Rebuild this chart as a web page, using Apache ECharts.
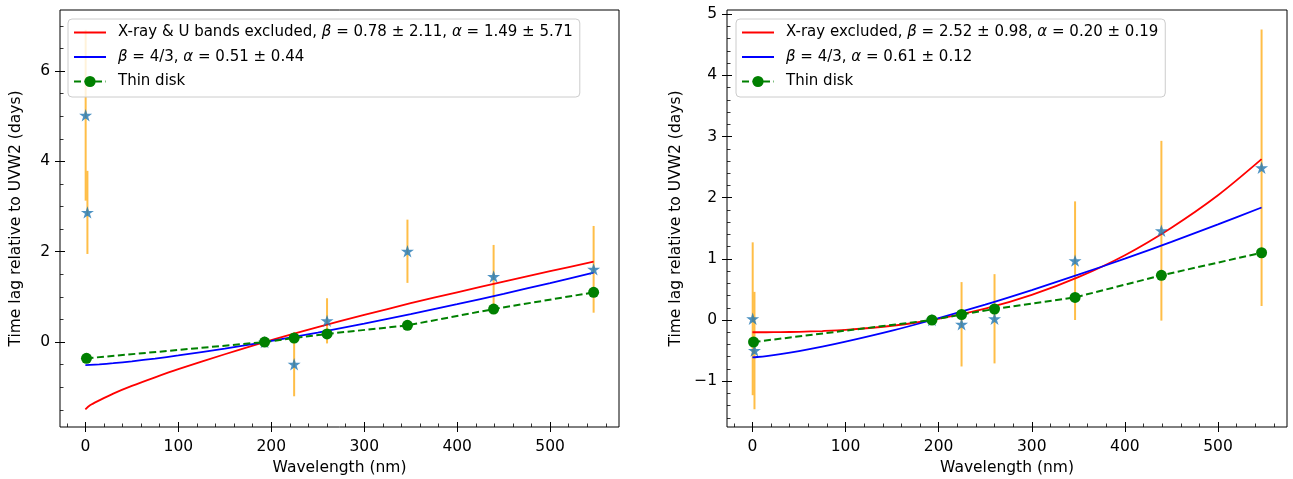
<!DOCTYPE html>
<html>
<head>
<meta charset="utf-8">
<script src="https://cdn.jsdelivr.net/npm/echarts@6/dist/echarts.min.js"></script>
<style>
  html, body { margin: 0; padding: 0; background: #fff; }
  #chart { width: 1293px; height: 479px; }
</style>
</head>
<body>
<div id="chart"></div>
<script>
// Band wavelengths (nm): two X-ray bands, then UVW2, UVM2, UVW1, U, B, V
const bandWavelengths = [0.3, 2.2, 192.8, 224.6, 260.0, 346.5, 439.2, 546.8];
const diskWavelengths = [1.2, 192.8, 224.6, 260.0, 346.5, 439.2, 546.8];
const thinDiskLag = [-0.36, 0.00, 0.09, 0.18, 0.37, 0.73, 1.10];

// Measured lags relative to UVW2 (days) and their uncertainties
const lagLeft = [5.02, 2.87, 0.00, -0.49, 0.47, 2.01, 1.45, 1.61];
const errLeft = [1.89, 0.92, 0.00, 0.71, 0.50, 0.70, 0.70, 0.96];
const lagRight = [0.02, -0.50, 0.00, -0.07, 0.02, 0.97, 1.46, 2.49];
const errRight = [1.25, 0.96, 0.00, 0.69, 0.73, 0.97, 1.47, 2.26];

// Fitted lag-spectrum curves, sampled along wavelength
const fitWavelengths = [0, 5, 15, 30, 50, 75, 100, 150, 192.8, 250, 300, 350, 400, 450, 500, 546.8];
const fitFreeLeft = [-1.49, -1.40, -1.29, -1.14, -0.97, -0.78, -0.60, -0.27, 0.00, 0.33, 0.60, 0.86, 1.10, 1.34, 1.57, 1.78];
const fitFixedLeft = [-0.51, -0.506, -0.493, -0.467, -0.426, -0.365, -0.297, -0.145, 0.00, 0.211, 0.410, 0.620, 0.839, 1.069, 1.307, 1.539];
const fitFreeRight = [-0.20, -0.20, -0.20, -0.198, -0.193, -0.181, -0.162, -0.094, 0.00, 0.185, 0.41, 0.70, 1.06, 1.51, 2.04, 2.63];
const fitFixedRight = [-0.61, -0.605, -0.59, -0.559, -0.509, -0.437, -0.355, -0.174, 0.00, 0.252, 0.490, 0.741, 1.003, 1.279, 1.563, 1.84];

const nameFreeLeft = 'X-ray & U bands excluded, β = 0.78 ± 2.11, α = 1.49 ± 5.71';
const nameFixedLeft = 'β = 4/3, α = 0.51 ± 0.44';
const nameFreeRight = 'X-ray excluded, β = 2.52 ± 0.98, α = 0.20 ± 0.19';
const nameFixedRight = 'β = 4/3, α = 0.61 ± 0.12';
const nameDisk = 'Thin disk';

// Axis ranges and tick labels
const xRange = [-27.3, 574.1];
const yRangeLeft = [-1.88, 7.35];
const yRangeRight = [-1.75, 5.07];
const xMajorTicks = [0, 100, 200, 300, 400, 500];
const yMajorLeft = [0, 2, 4, 6];
const yMajorRight = [-1, 0, 1, 2, 3, 4, 5];

function minorTicks(lo, hi, step, majors) {
  const out = [];
  const n0 = Math.ceil(lo / step - 1e-9), n1 = Math.floor(hi / step + 1e-9);
  for (let n = n0; n <= n1; n++) {
    const v = +(n * step).toFixed(6);
    if (!majors.some(m => Math.abs(m - v) < 1e-6)) out.push(v);
  }
  return out;
}
const xMinorTicks = minorTicks(xRange[0], xRange[1], 20, xMajorTicks);
const yMinorLeft = minorTicks(yRangeLeft[0], yRangeLeft[1], 0.5, yMajorLeft);
const yMinorRight = minorTicks(yRangeRight[0], yRangeRight[1], 0.2, yMajorRight);

const FONT = 'DejaVu Sans';
const FS = 15.5;
const LEG_FS = 15;
const fmtNum = v => (v < 0 ? '\u2212' + Math.abs(v) : String(v));

// Three stacked axes per side: labelled axis with outward major ticks,
// inward major ticks, inward minor ticks.
function axisSet(kind, gridIndex, range, majors, minors, name, nameGap, labelMargin) {
  const base = {
    type: 'value', gridIndex, min: range[0], max: range[1],
    position: kind === 'x' ? 'bottom' : 'left', offset: 0,
    splitLine: { show: false },
    axisLine: { show: false, onZero: false }
  };
  return [
    Object.assign({}, base, {
      name, nameLocation: 'middle', nameGap,
      nameTextStyle: { fontFamily: FONT, fontSize: FS, color: '#000' },
      axisTick: { show: true, inside: false, length: 5, customValues: majors, lineStyle: { color: '#000', width: 1 } },
      axisLabel: { show: true, customValues: majors, margin: labelMargin, formatter: fmtNum,
                   fontFamily: FONT, fontSize: FS, color: '#000' }
    }),
    Object.assign({}, base, {
      axisTick: { show: true, inside: true, length: 5, customValues: majors, lineStyle: { color: '#000', width: 1 } },
      axisLabel: { show: false, customValues: majors }
    }),
    Object.assign({}, base, {
      axisTick: { show: true, inside: true, length: 3.5, customValues: minors, lineStyle: { color: '#000', width: 0.8 } },
      axisLabel: { show: false, customValues: minors }
    })
  ];
}

const STAR = 'path://M50 0 L61.23 34.55 L97.55 34.55 L68.16 55.9 L79.39 90.45 L50 69.1 L20.61 90.45 L31.84 55.9 L2.45 34.55 L38.77 34.55 Z';

function panelSeries(axisIdx, lags, errs, freeName, freeVals, fixedName, fixedVals) {
  const errData = bandWavelengths.map((w, i) => [w, lags[i] - errs[i], lags[i] + errs[i]]);
  return [
    {
      type: 'custom', name: 'err', xAxisIndex: axisIdx, yAxisIndex: axisIdx, z: 1,
      data: errData, encode: { x: 0, y: [1, 2] },
      renderItem: (params, api) => {
        const p1 = api.coord([api.value(0), api.value(1)]);
        const p2 = api.coord([api.value(0), api.value(2)]);
        return { type: 'line', shape: { x1: p1[0], y1: p1[1], x2: p2[0], y2: p2[1] },
                 style: { stroke: 'rgba(255,165,0,0.72)', lineWidth: 2 } };
      }
    },
    {
      type: 'line', name: freeName, xAxisIndex: axisIdx, yAxisIndex: axisIdx, z: 2,
      data: fitWavelengths.map((w, i) => [w, freeVals[i]]),
      symbol: 'none', smooth: 0.3, color: '#ff0000',
      lineStyle: { color: '#ff0000', width: 1.8 }
    },
    {
      type: 'line', name: fixedName, xAxisIndex: axisIdx, yAxisIndex: axisIdx, z: 3,
      data: fitWavelengths.map((w, i) => [w, fixedVals[i]]),
      symbol: 'none', smooth: 0.3, color: '#0000ff',
      lineStyle: { color: '#0000ff', width: 1.8 }
    },
    {
      type: 'scatter', name: 'lag', xAxisIndex: axisIdx, yAxisIndex: axisIdx, z: 4,
      data: bandWavelengths.map((w, i) => [w, lags[i]]),
      symbol: STAR, symbolSize: 13, symbolKeepAspect: true,
      itemStyle: { color: '#1f77b4' }
    },
    {
      type: 'line', name: nameDisk, xAxisIndex: axisIdx, yAxisIndex: axisIdx, z: 5,
      data: diskWavelengths.map((w, i) => [w, thinDiskLag[i]]),
      symbol: 'circle', symbolSize: 11, showSymbol: true, color: '#008000',
      itemStyle: { color: '#008000' },
      lineStyle: { color: '#008000', width: 2, type: [7, 3.5] }
    }
  ];
}

function richName(name) {
  return '{s| }' + name.split(/([βα])/).filter(s => s.length)
    .map(s => (s === 'β' || s === 'α') ? '{i|' + s + '}' : '{n|' + s + '}').join('');
}

function legendFor(left, names) {
  return {
    orient: 'vertical', left, top: 19,
    data: [
      { name: names[0], itemStyle: { opacity: 0 } },
      { name: names[1], itemStyle: { opacity: 0 } },
      { name: names[2] }
    ],
    itemWidth: 32, itemHeight: 14, itemGap: 7.5,
    padding: [5, 7, 7, 5],
    backgroundColor: 'rgba(255,255,255,0.8)',
    borderColor: '#cccccc', borderWidth: 1, borderRadius: 4,
    selectedMode: false,
    formatter: richName,
    textStyle: {
      fontFamily: FONT, fontSize: LEG_FS, color: '#000', lineHeight: 17,
      rich: {
        s: { width: 7, fontFamily: FONT, fontSize: LEG_FS },
        n: { fontFamily: FONT, fontSize: LEG_FS, color: '#000' },
        i: { fontFamily: FONT, fontSize: LEG_FS, color: '#000', fontStyle: 'italic' }
      }
    }
  };
}

const yLabel = 'Time lag relative to UVW2 (days)';
const xLabel = 'Wavelength (nm)';

const option = {
  animation: false,
  backgroundColor: '#ffffff',
  grid: [
    { left: 60, right: 674, top: 10, bottom: 52, show: true, borderColor: '#000', borderWidth: 1, outerBoundsMode: 'none' },
    { left: 727, right: 6, top: 10, bottom: 52, show: true, borderColor: '#000', borderWidth: 1, outerBoundsMode: 'none' }
  ],
  xAxis: [
    ...axisSet('x', 0, xRange, xMajorTicks, xMinorTicks, xLabel, 33, 12),
    ...axisSet('x', 1, xRange, xMajorTicks, xMinorTicks, xLabel, 33, 12)
  ],
  yAxis: [
    ...axisSet('y', 0, yRangeLeft, yMajorLeft, yMinorLeft, yLabel, 36, 10),
    ...axisSet('y', 1, yRangeRight, yMajorRight, yMinorRight, yLabel, 43, 10)
  ],
  legend: [
    legendFor(68, [nameFreeLeft, nameFixedLeft, nameDisk]),
    legendFor(736, [nameFreeRight, nameFixedRight, nameDisk])
  ],
  series: [
    ...panelSeries(0, lagLeft, errLeft, nameFreeLeft, fitFreeLeft, nameFixedLeft, fitFixedLeft),
    ...panelSeries(3, lagRight, errRight, nameFreeRight, fitFreeRight, nameFixedRight, fitFixedRight)
  ]
};

const chart = echarts.init(document.getElementById('chart'), null, { renderer: 'canvas' });
chart.setOption(option);
</script>
</body>
</html>
